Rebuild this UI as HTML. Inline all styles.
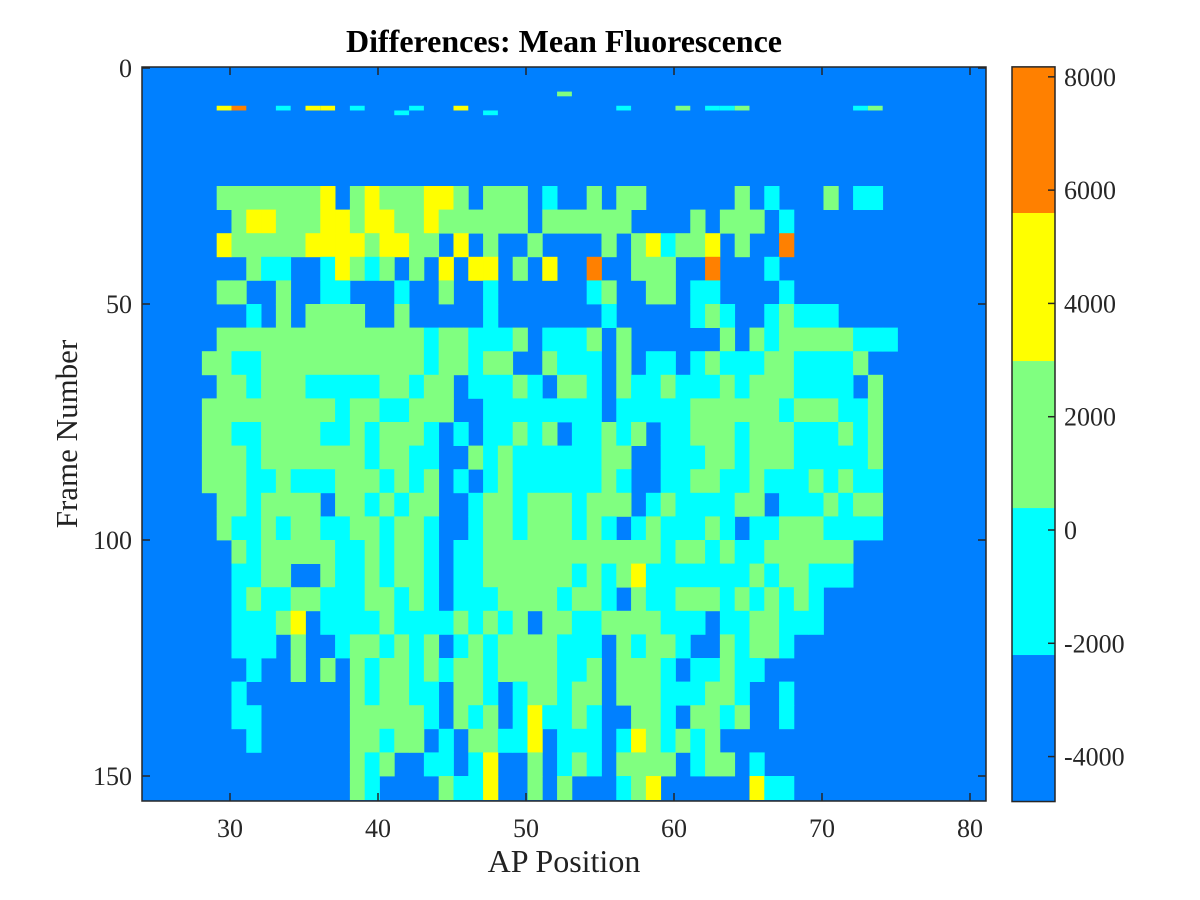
<!DOCTYPE html>
<html><head><meta charset="utf-8"><style>
html,body{margin:0;padding:0;background:#fff;}
svg{display:block;font-family:"Liberation Serif",serif;}
</style></head><body>
<svg id="chart" width="1200" height="900" viewBox="0 0 1200 900">
<rect x="0" y="0" width="1200" height="900" fill="#fff"/>
<text x="564" y="52" text-anchor="middle" font-size="32" font-weight="bold" fill="#000">Differences: Mean Fluorescence</text>
<g id="plot"></g>
<g id="axes"></g>
<g id="cbar"></g>
<text x="564" y="872" text-anchor="middle" font-size="32" fill="#222">AP Position</text>
<text transform="translate(77,434) rotate(-90)" text-anchor="middle" font-size="31" fill="#222">Frame Number</text>
</svg>
<script>
// level codes per 5-frame band (rows) and AP column (47 columns starting at AP 28.1)
const bandFrames = 5;
const apStart = 28.1;
const nCols = 47;
const levelValues = [-4000, -1000, 1500, 4000, 7000];
const band00 = "0";
const band01 = "0";
const band02 = "0";
const band03 = "0";
const band04 = "0";
const band05 = "0222222230"+"2322233202"+"22010"+"0202200000"+"020100020110";
const band06 = "0023322233"+"2332232222"+"22022"+"2222000020"+"222010000000";
const band07 = "0322222333"+"3233220302"+"00200"+"0020231223"+"020040000000";
const band08 = "0002110013"+"2120203033"+"02030"+"0400222004"+"000100000000";
const band09 = "0220020011"+"0001002001"+"00000"+"0120022011"+"000010000000";
const band10 = "0001020222"+"2002000001"+"00000"+"0010000012"+"100121110000";
const band11 = "0222222222"+"2222212211"+"12011"+"1202000000"+"202122222111";
const band12 = "2211222222"+"2222212212"+"20021"+"1102011012"+"111221111200";
const band13 = "0221222111"+"1122122011"+"12102"+"2102112111"+"212221111020";
const band14 = "2222222221"+"2211222001"+"11111"+"1101111122"+"222212221120";
const band15 = "2211222211"+"2122210101"+"12120"+"1121201122"+"212221112120";
const band16 = "2221222222"+"2122110021"+"21111"+"1122001112"+"212221111120";
const band17 = "2221121112"+"2212120101"+"21111"+"1121001122"+"112111212110";
const band18 = "0221222202"+"2121220012"+"21222"+"1222012111"+"122011121220";
const band19 = "0211212211"+"2212210012"+"21222"+"1210121112"+"101122211110";
const band20 = "0021222221"+"1212210112"+"22222"+"2222221221"+"211222222000";
const band21 = "0011220021"+"1212210112"+"22222"+"1212311111"+"112122111000";
const band22 = "0012112211"+"1221210111"+"22221"+"2210211222"+"121212100000";
const band23 = "0011123011"+"1121111212"+"12022"+"1122221110"+"112211100000";
const band24 = "0011102001"+"2212120121"+"22221"+"1102122100"+"212210000000";
const band25 = "0001002020"+"2122121221"+"22221"+"1202221011"+"211000000000";
const band26 = "0010000000"+"2122110221"+"01221"+"2202221112"+"210010000000";
const band27 = "0011000000"+"2222210212"+"01311"+"2100221022"+"120010000000";
const band28 = "0001000000"+"2212201022"+"11301"+"1101321212"+"000000000000";
const band29 = "0000000000"+"2120011013"+"00201"+"2102222012"+"201000000000";
const band30 = "0000000000"+"2100002113"+"00202"+"0001230000"+"003110000000";
const bands = [band00,band01,band02,band03,band04,band05,band06,band07,band08,band09,band10,
  band11,band12,band13,band14,band15,band16,band17,band18,band19,band20,band21,band22,band23,
  band24,band25,band26,band27,band28,band29,band30];
// sparse single-frame events: frame, column index, level code
const sparseFrames = [8, 8, 8, 8, 8, 8, 9, 8, 8, 9, 8, 8, 8, 8, 8, 5, 8, 8];
const sparseCols   = [1, 2, 5, 7, 8, 10, 13, 14, 17, 19, 28, 32, 34, 35, 36, 24, 44, 45];
const sparseLevels = [3, 4, 1, 3, 3, 1, 1, 1, 3, 1, 1, 2, 1, 1, 2, 2, 1, 2];
const xTicks = [30, 40, 50, 60, 70, 80];
const yTicks = [0, 50, 100, 150];
const cbTicks = [8000, 6000, 4000, 2000, 0, -2000, -4000];
const cbEdges = [-4794, -2207, 388, 2983, 5596, 8176];
const cbColors = ["#0080ff", "#00ffff", "#80ff80", "#ffff00", "#ff8000"];

const NS = "http://www.w3.org/2000/svg";
const X0 = 142, X1 = 986, Y0 = 67, Y1 = 801;
function sx(v){ return 230 + (v - 30) * 14.8; }
function sy(v){ return 68 + v * 4.72; }
function cy(v){ return 530 - v * 0.056645; }
function colorOf(val){
  for (let i = cbEdges.length - 2; i >= 0; i--) if (val >= cbEdges[i]) return cbColors[i];
  return cbColors[0];
}
function mk(tag, attrs, parent){
  const e = document.createElementNS(NS, tag);
  for (const k in attrs) e.setAttribute(k, attrs[k]);
  parent.appendChild(e); return e;
}
const plot = document.getElementById("plot");
const axes = document.getElementById("axes");
const cbar = document.getElementById("cbar");

const bg = mk("rect", {x:X0, y:Y0, width:X1-X0, height:Y1-Y0, fill:colorOf(levelValues[0])}, plot);



bands.forEach((rowRaw, bi) => {
  const row = rowRaw.padEnd(nCols, "0");
  for (let c = 0; c < nCols; c++) {
    const code = +row[c];
    if (code === 0) continue;
    const val = levelValues[code];
    const xa = apStart + c, fa = bi * bandFrames;
    const y1 = Math.min(sy(fa + bandFrames), Y1);
    const r = mk("rect", {x:sx(xa), y:sy(fa), width:sx(xa+1)-sx(xa)+0.4, height:y1-sy(fa)+0.4, fill:colorOf(val)}, plot);
    
    
  }
});
sparseFrames.forEach((f, i) => {
  const xa = apStart + sparseCols[i];
  const r = mk("rect", {x:sx(xa), y:sy(f), width:sx(xa+1)-sx(xa), height:sy(f+1)-sy(f), fill:colorOf(levelValues[sparseLevels[i]])}, plot);
  
  
});

const box = mk("rect", {x:X0, y:Y0, width:X1-X0, height:Y1-Y0, fill:"none", stroke:"#262626", "stroke-width":1.5}, axes);


xTicks.forEach(t => {
  const x = sx(t);
  mk("line", {x1:x, y1:Y1, x2:x, y2:Y1-8, stroke:"#262626", "stroke-width":1.5}, axes);
  mk("line", {x1:x, y1:Y0, x2:x, y2:Y0+8, stroke:"#262626", "stroke-width":1.5}, axes);
  const l = mk("text", {x:x, y:837, "text-anchor":"middle", "font-size":26, fill:"#262626"}, axes);
  l.textContent = t;
  
  
});
yTicks.forEach(t => {
  const y = sy(t);
  mk("line", {x1:X0, y1:y, x2:X0+8, y2:y, stroke:"#262626", "stroke-width":1.5}, axes);
  mk("line", {x1:X1, y1:y, x2:X1-8, y2:y, stroke:"#262626", "stroke-width":1.5}, axes);
  const l = mk("text", {x:132, y:y+9, "text-anchor":"end", "font-size":26, fill:"#262626"}, axes);
  l.textContent = t;
  
  
});

const CX0 = 1012, CX1 = 1055;
cbColors.forEach((col, i) => {
  const yt = cy(cbEdges[i+1]), yb = cy(cbEdges[i]);
  const r = mk("rect", {x:CX0, y:yt, width:CX1-CX0, height:yb-yt, fill:col}, cbar);
  
  
});
const cb = mk("rect", {x:CX0, y:cy(cbEdges[5]), width:CX1-CX0, height:cy(cbEdges[0])-cy(cbEdges[5]), fill:"none", stroke:"#262626", "stroke-width":1.5}, cbar);


cbTicks.forEach(t => {
  const y = cy(t);
  mk("line", {x1:CX1, y1:y, x2:CX1-7, y2:y, stroke:"#262626", "stroke-width":1.5}, cbar);
  const l = mk("text", {x:1064, y:y+9, "text-anchor":"start", "font-size":26, fill:"#262626"}, cbar);
  l.textContent = t;
  
  
});
</script>
</body></html>
